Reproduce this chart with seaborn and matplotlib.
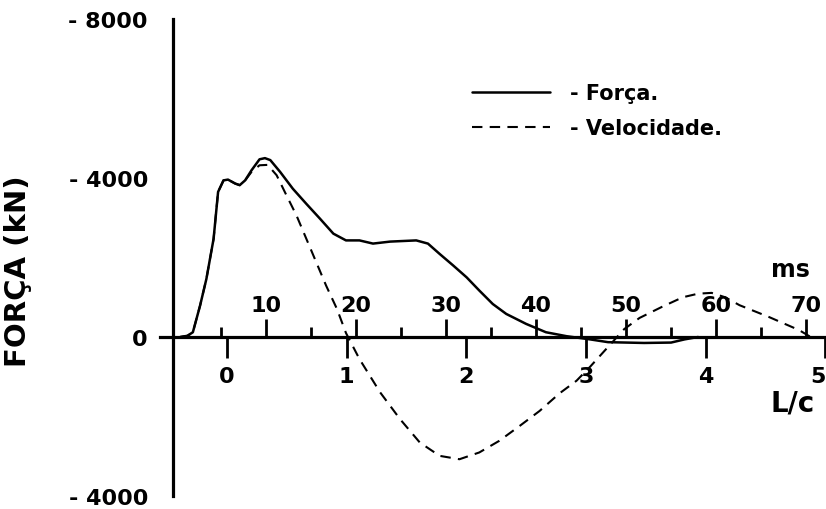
import matplotlib
matplotlib.use("Agg")
import matplotlib.pyplot as plt
import seaborn as sns
import pandas as pd

# Force record (time in ms, force in kN)
force_ms = [0.5, 1.3, 1.9, 2.7, 3.4, 4.2, 4.7, 5.3, 5.8, 6.6, 7.1, 7.7, 8.4, 9.3,
            9.9, 10.5, 11.6, 13.0, 14.5, 16.0, 17.5, 18.9, 20.4, 21.9, 23.8, 26.7,
            28.0, 29.3, 30.8, 32.3, 33.7, 35.2, 36.7, 38.9, 41.1, 43.4, 46.0, 48.0,
            52.0, 55.0, 56.5, 58.0]
force_kn = [0, 30, 120, 790, 1460, 2470, 3650, 3940, 3960, 3860, 3820, 3940, 4190, 4470,
            4500, 4450, 4150, 3730, 3350, 2980, 2600, 2430, 2430, 2350, 2400, 2430,
            2350, 2090, 1800, 1500, 1170, 830, 580, 330, 120, 20, -60, -130,
            -150, -140, -60, 0]

# Velocity record, expressed as force (Z * v) in kN
vel_ms = [0.5, 1.3, 1.9, 2.7, 3.4, 4.2, 4.7, 5.3, 5.8, 6.6, 7.1, 7.7, 8.4, 9.3,
          10.2, 11.2, 12.3, 13.4, 14.5, 15.6, 16.7, 17.9, 18.9, 20.4, 22.7, 24.9,
          27.1, 29.3, 31.5, 33.7, 35.9, 38.2, 40.4, 42.6, 44.5, 46.0, 47.8, 49.8,
          51.5, 54.0, 56.3, 58.0, 59.5, 61.0, 62.6, 65.9, 69.2, 70.5]
vel_kn = [0, 30, 120, 790, 1460, 2470, 3650, 3940, 3960, 3860, 3820, 3940, 4150, 4320,
          4330, 4070, 3560, 3060, 2470, 1880, 1290, 705, 100, -555, -1395, -2065,
          -2655, -2990, -3075, -2905, -2615, -2235, -1860, -1420, -1100, -750, -300, 200,
          480, 760, 1000, 1090, 1110, 1000, 800, 500, 175, 0]

series_labels = ["- Força.", "- Velocidade."]
y_ticks = [8000, 4000, 0, -4000]
y_tick_labels = ["- 8000", "- 4000", "0", "- 4000"]
ms_major = [10, 20, 30, 40, 50, 60, 70]
ms_minor = [5, 15, 25, 35, 45, 55, 65]
lc_ticks = [0, 1, 2, 3, 4, 5]

# L/c scale relative to the time axis
LC_ZERO_MS = 5.68
LC_STEP_MS = 13.29

sns.set_theme(style="white")
plt.rcParams["font.family"] = ["DejaVu Sans"]
plt.rcParams["font.weight"] = "bold"
for key in ["text.color", "axes.labelcolor", "xtick.color", "ytick.color"]:
    plt.rcParams[key] = "black"

W, H = 826, 510
fig = plt.figure(figsize=(W / 100, H / 100), dpi=100)
fig.patch.set_facecolor("white")
ax = fig.add_axes([160 / W, 13 / H, 666 / W, 477 / H])
ax.set_facecolor("white")

force_df = pd.DataFrame({"ms": force_ms, "kN": force_kn})
vel_df = pd.DataFrame({"ms": vel_ms, "kN": vel_kn})

sns.lineplot(data=force_df, x="ms", y="kN", ax=ax, color="black", linewidth=1.8,
             estimator=None, sort=False, label=series_labels[0], zorder=4)
sns.lineplot(data=vel_df, x="ms", y="kN", ax=ax, color="black", linewidth=1.5,
             linestyle=(0, (5, 3.5)), estimator=None, sort=False,
             label=series_labels[1], zorder=3)

ax.set_xlim(-1.75, 72.2)
ax.set_ylim(-4000, 8000)
ax.set_xlabel("")

for side in ["bottom", "right"]:
    ax.spines[side].set_visible(False)
ax.spines["top"].set_position(("data", 0))
ax.spines["left"].set_position(("data", -0.31))
for side in ["top", "left"]:
    ax.spines[side].set_color("black")
    ax.spines[side].set_linewidth(2.3)

# time axis (ms): ticks and labels above the zero line
ax.xaxis.tick_top()
ax.set_xticks(ms_major)
ax.set_xticks(ms_minor, minor=True)
ax.tick_params(axis="x", which="major", direction="out", length=13, width=2,
               pad=3, labelsize=16, colors="black")
ax.tick_params(axis="x", which="minor", direction="out", length=7, width=2,
               colors="black")

ax.set_yticks(y_ticks, y_tick_labels)
ax.tick_params(axis="y", direction="out", length=11, width=2, pad=7,
               labelsize=16, colors="black")

ax.set_ylabel("FORÇA (kN)", fontsize=21, fontweight="bold", color="black")
ax.yaxis.set_label_coords(-0.192, 0.474)

# L/c axis below the zero line
sec = ax.secondary_xaxis(1 / 3, functions=(lambda m: (m - LC_ZERO_MS) / LC_STEP_MS,
                                           lambda l: LC_ZERO_MS + l * LC_STEP_MS))
sec.set_xticks(lc_ticks)
sec.tick_params(direction="out", length=15, width=2, pad=6, labelsize=16,
                colors="black")
for sp in sec.spines.values():
    sp.set_visible(False)
# the last L/c label sits at the right border: keep it inside the figure
fig.canvas.draw()
sec.get_xticklabels()[-1].set_horizontalalignment("right")

ax.text(0.946, 0.476, "ms", transform=ax.transAxes, ha="center", va="center",
        fontsize=17, fontweight="bold", color="black")
ax.text(0.950, 0.197, "L/c", transform=ax.transAxes, ha="center", va="center",
        fontsize=20, fontweight="bold", color="black")

leg = ax.legend(loc="upper left", bbox_to_anchor=(472 / W, 1 - 84 / H),
                bbox_transform=fig.transFigure, frameon=False, fontsize=15,
                handlelength=3.75, handletextpad=0.96, labelspacing=0.72,
                borderpad=0, borderaxespad=0)
for t in leg.get_texts():
    t.set_color("black")

fig.savefig("out.png", dpi=100, facecolor="white")
